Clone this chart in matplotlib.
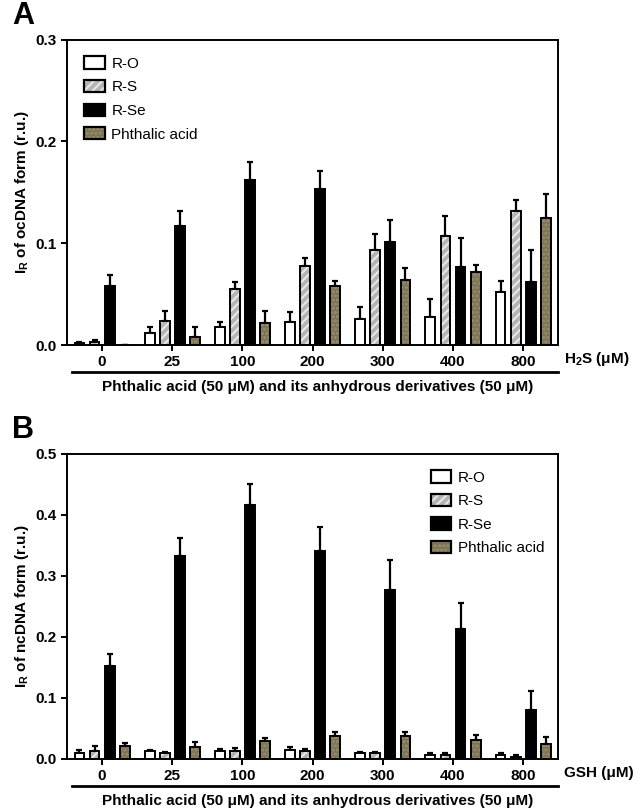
import matplotlib
matplotlib.use("Agg")
import matplotlib.pyplot as plt
import numpy as np
from matplotlib.patches import Patch

plt.rcParams['font.family'] = ['Liberation Sans', 'DejaVu Sans']
plt.rcParams['mathtext.fontset'] = 'custom'
plt.rcParams['mathtext.rm'] = 'Liberation Sans:bold'
plt.rcParams['mathtext.bf'] = 'Liberation Sans:bold'
plt.rcParams['mathtext.it'] = 'Liberation Sans:bold'
plt.rcParams['hatch.linewidth'] = 1.5

groups = ['0', '25', '100', '200', '300', '400', '800']
series = ['R-O', 'R-S', 'R-Se', 'Phthalic acid']

# Panel A: ocDNA, H2S
a_ro = [0.002, 0.012, 0.018, 0.023, 0.026, 0.028, 0.052]
a_ro_err = [0.001, 0.006, 0.005, 0.009, 0.011, 0.017, 0.011]
a_rs = [0.003, 0.024, 0.055, 0.078, 0.093, 0.107, 0.132]
a_rs_err = [0.002, 0.009, 0.007, 0.008, 0.016, 0.020, 0.011]
a_rse = [0.058, 0.117, 0.162, 0.153, 0.101, 0.077, 0.062]
a_rse_err = [0.011, 0.015, 0.018, 0.018, 0.022, 0.028, 0.031]
a_pa = [0.0005, 0.008, 0.022, 0.058, 0.064, 0.072, 0.125]
a_pa_err = [0.0, 0.010, 0.011, 0.005, 0.012, 0.007, 0.023]

# Panel B: ncDNA, GSH
b_ro = [0.010, 0.013, 0.013, 0.015, 0.010, 0.007, 0.006]
b_ro_err = [0.005, 0.002, 0.003, 0.004, 0.002, 0.002, 0.004]
b_rs = [0.013, 0.009, 0.013, 0.013, 0.010, 0.006, 0.004]
b_rs_err = [0.008, 0.002, 0.005, 0.003, 0.002, 0.003, 0.003]
b_rse = [0.153, 0.333, 0.416, 0.340, 0.277, 0.213, 0.081]
b_rse_err = [0.019, 0.029, 0.035, 0.040, 0.048, 0.042, 0.031]
b_pa = [0.021, 0.019, 0.030, 0.038, 0.038, 0.031, 0.024]
b_pa_err = [0.005, 0.009, 0.005, 0.006, 0.006, 0.008, 0.012]

styles = [
    dict(fc='white', hatch=None, hc=None),
    dict(fc='#b4b4b4', hatch='////', hc='#e8e8e8'),
    dict(fc='black', hatch=None, hc=None),
    dict(fc='#7c7355', hatch='....', hc='#9b9070'),
]

fig = plt.figure(figsize=(6.38, 8.10), dpi=100)
axA = fig.add_axes([0.105, 0.574, 0.770, 0.377])
axB = fig.add_axes([0.105, 0.063, 0.770, 0.377])

x = np.arange(len(groups))
offs = np.array([-1.5, -0.5, 0.5, 1.5]) * 0.215
width = 0.14


def draw(ax, vals, errs, ymax, yticks, ylabel, xlabel, letter, legend_loc, legend_anchor):
    handles = []
    for i, (v, e, st) in enumerate(zip(vals, errs, styles)):
        bars = ax.bar(x + offs[i], v, width, facecolor=st['fc'], edgecolor='black',
                      linewidth=1.4, hatch=st['hatch'], zorder=2)
        if st['hc'] is not None:
            for p in bars.patches:
                p._hatch_color = matplotlib.colors.to_rgba(st['hc'])
        ax.errorbar(x + offs[i], v, yerr=[np.zeros(len(e)), e], fmt='none',
                    ecolor='black', elinewidth=1.6, capsize=2, capthick=1.6, zorder=1)
        h = Patch(facecolor=st['fc'], edgecolor='black', linewidth=1.6, hatch=st['hatch'])
        if st['hc'] is not None:
            h._hatch_color = matplotlib.colors.to_rgba(st['hc'])
        handles.append(h)
    ax.set_xlim(-0.5, len(groups) - 0.5)
    ax.set_ylim(0, ymax)
    ax.set_yticks(yticks)
    ax.set_yticklabels([f'{t:.1f}' for t in yticks], fontsize=11, fontweight='bold')
    ax.set_xticks(x)
    ax.set_xticklabels(groups, fontsize=11, fontweight='bold')
    ax.tick_params(axis='both', direction='out', width=1.4, length=4)
    for s in ax.spines.values():
        s.set_linewidth(1.4)
    ax.set_ylabel(ylabel, fontsize=11, fontweight='bold', labelpad=3)
    ax.text(1.012, -0.045, xlabel, transform=ax.transAxes, ha='left', va='center',
            fontsize=11, fontweight='bold')
    ax.plot([0.01, 1.0], [-0.089, -0.089], transform=ax.transAxes, color='black',
            linewidth=2, clip_on=False)
    ax.text(0.51, -0.138, 'Phthalic acid (50 μM) and its anhydrous derivatives (50 μM)',
            transform=ax.transAxes, ha='center', va='center', fontsize=11, fontweight='bold')
    ax.text(-0.112, 1.078, letter, transform=ax.transAxes, ha='left', va='center',
            fontsize=22, fontweight='bold')
    ax.legend(handles, series, loc=legend_loc, bbox_to_anchor=legend_anchor, frameon=False,
              fontsize=11, handlelength=1.35, handleheight=0.85, labelspacing=0.6,
              handletextpad=0.45, borderaxespad=0)


draw(axA, [a_ro, a_rs, a_rse, a_pa], [a_ro_err, a_rs_err, a_rse_err, a_pa_err],
     0.3, [0.0, 0.1, 0.2, 0.3], r'I$_\mathregular{R}$ of ocDNA form (r.u.)',
     r'H$_\mathregular{2}$S (μM)', 'A', 'upper left', (0.022, 0.965))
draw(axB, [b_ro, b_rs, b_rse, b_pa], [b_ro_err, b_rs_err, b_rse_err, b_pa_err],
     0.5, [0.0, 0.1, 0.2, 0.3, 0.4, 0.5], r'I$_\mathregular{R}$ of ncDNA form (r.u.)',
     'GSH (μM)', 'B', 'upper left', (0.728, 0.965))

fig.savefig('out.png', dpi=100)
